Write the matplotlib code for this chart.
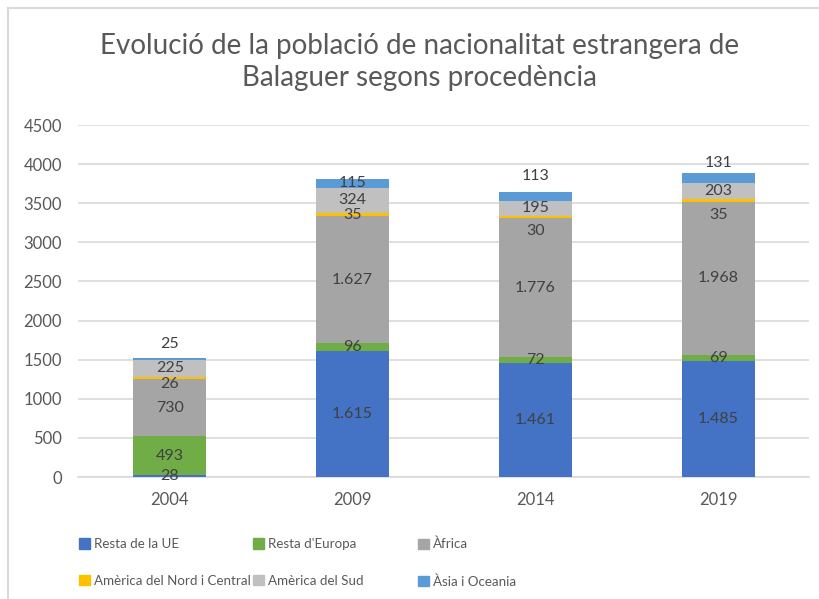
import matplotlib.pyplot as plt
from matplotlib.lines import Line2D
from matplotlib.patches import Patch
import numpy as np

anys = ["2004", "2009", "2014", "2019"]
series = ["Resta de la UE", "Resta d'Europa", "Àfrica",
          "Amèrica del Nord i Central", "Amèrica del Sud", "Àsia i Oceania"]
resta_ue = [28, 1615, 1461, 1485]
resta_europa = [493, 96, 72, 69]
africa = [730, 1627, 1776, 1968]
america_nord = [26, 35, 30, 35]
america_sud = [225, 324, 195, 203]
asia = [25, 115, 113, 131]
valors = [resta_ue, resta_europa, africa, america_nord, america_sud, asia]
colors = ["#4472C4", "#70AD47", "#A5A5A5", "#FFC000", "#C0C0C0", "#5B9BD5"]

# etiquetes desplaçades a mà (any, serie) -> pixels cap amunt
despl = {(0, 3): -6, (0, 5): 15, (2, 3): -14, (2, 5): 20, (3, 3): -15, (3, 5): 15}

W, H = 820, 599
fig = plt.figure(figsize=(W / 100, H / 100), dpi=100)
plt.rcParams['font.family'] = ['Lato', 'DejaVu Sans']

# vora del gràfic
fig.add_artist(Line2D([8 / W, 1], [1 - 8 / H, 1 - 8 / H], transform=fig.transFigure,
                      color="#D9D9D9", lw=1.5))
fig.add_artist(Line2D([8 / W, 8 / W], [0, 1 - 8 / H], transform=fig.transFigure,
                      color="#D9D9D9", lw=1.5))

ax = fig.add_axes([78.5 / W, 1 - 477 / H, 731 / W, 352 / H])
x = np.arange(len(anys))
base = np.zeros(len(anys))
for i, (nom, v, c) in enumerate(zip(series, valors, colors)):
    v = np.array(v, dtype=float)
    ax.bar(x, v, width=0.4, bottom=base, color=c, label=nom, zorder=3)
    for j in range(len(anys)):
        txt = f"{int(v[j]):,}".replace(",", ".")
        off = despl.get((j, i), 0) * 0.72
        ax.annotate(txt, (x[j], base[j] + v[j] / 2), xytext=(0, off),
                    textcoords="offset points", ha="center", va="center",
                    fontsize=11.5, color="#404040", zorder=4)
    base += v

ax.set_xlim(-0.5, 3.5)
ax.set_ylim(0, 4500)
ax.set_yticks(range(0, 4501, 500))
ax.set_xticks(x)
ax.set_xticklabels(anys)
ax.yaxis.grid(True, color="#D9D9D9", lw=1.2, zorder=0)
for s in ["top", "right", "left"]:
    ax.spines[s].set_visible(False)
ax.spines["bottom"].set_color("#D9D9D9")
ax.spines["bottom"].set_linewidth(1.2)
ax.tick_params(axis="both", length=0, labelsize=12, colors="#595959")
ax.tick_params(axis="y", pad=12)
ax.tick_params(axis="x", pad=11)

fig.text(0.512, 1 - 62 / H, "Evolució de la població de nacionalitat estrangera de\nBalaguer segons procedència",
         ha="center", va="center", fontsize=20, color="#595959", linespacing=1.32)

# llegenda en tres columnes, com a l'original
cols_x = [79, 253, 418]
for k in range(3):
    hs = [Patch(color=colors[k]), Patch(color=colors[k + 3])]
    ls = [series[k], series[k + 3]]
    fig.legend(hs, ls, loc="upper left", bbox_to_anchor=(cols_x[k] / W, 1 - 538 / H),
               frameon=False, fontsize=9.6, handlelength=0.85, handleheight=0.85,
               handletextpad=0.3, labelspacing=1.85, borderaxespad=0, borderpad=0,
               labelcolor="#595959")

fig.savefig("out.png", dpi=100)
